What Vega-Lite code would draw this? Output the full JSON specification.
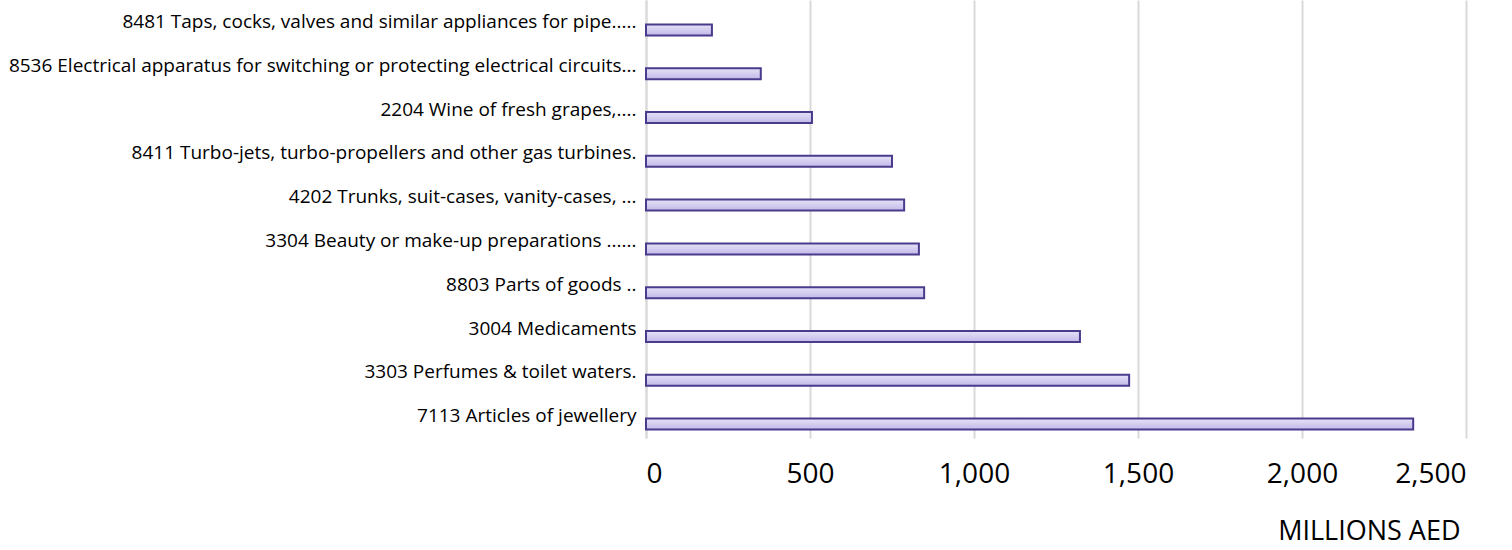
{
  "$schema": "https://vega.github.io/schema/vega-lite/v6.json",
  "autosize": "none",
  "width": 820,
  "height": 438,
  "padding": {"left": 646, "top": 0, "right": 46, "bottom": 112},
  "background": "white",
  "config": {"view": {"stroke": null}, "font": "Open Sans"},
  "data": {"values": [
    {"item": "8481 Taps, cocks, valves and similar appliances for pipe.....", "value": 201},
    {"item": "8536 Electrical apparatus for switching or protecting electrical circuits...", "value": 350},
    {"item": "2204 Wine of fresh grapes,....", "value": 506},
    {"item": "8411 Turbo-jets, turbo-propellers and other gas turbines.", "value": 750},
    {"item": "4202 Trunks, suit-cases, vanity-cases, ...", "value": 787},
    {"item": "3304 Beauty or make-up preparations ......", "value": 832},
    {"item": "8803 Parts of goods ..", "value": 848},
    {"item": "3004 Medicaments ", "value": 1323},
    {"item": "3303 Perfumes & toilet waters.", "value": 1473},
    {"item": "7113 Articles of jewellery ", "value": 2339}
  ]},
  "mark": {
    "type": "bar",
    "height": 11,
    "yOffset": 8,
    "stroke": "#4a3b8c",
    "strokeWidth": 2,
    "color": {"gradient": "linear", "x1": 0, "y1": 0, "x2": 0, "y2": 1,
      "stops": [{"offset": 0, "color": "#e6e2f7"}, {"offset": 1, "color": "#c2b9e8"}]}
  },
  "encoding": {
    "y": {
      "field": "item", "type": "nominal", "sort": null, "title": null,
      "axis": {"labelFontSize": 19, "labelColor": "#000000", "labelPadding": 10, "ticks": false,
        "domainColor": "#d9d9d9", "domainWidth": 2, "labelLimit": 800, "grid": false}
    },
    "x": {
      "field": "value", "type": "quantitative", "title": "MILLIONS AED",
      "scale": {"domain": [0, 2500], "nice": false},
      "axis": {"values": [0, 500, 1000, 1500, 2000, 2500], "format": ",.0f", "labelFontSize": 28,
        "labelColor": "#000000", "labelPadding": 22, "ticks": false, "domain": false,
        "gridColor": "#d9d9d9", "gridWidth": 2, "titleFontSize": 27, "titleFontWeight": "normal",
        "titleColor": "#000000", "titleAnchor": "end", "titlePadding": 30, "titleX": 814}
    }
  }
}
